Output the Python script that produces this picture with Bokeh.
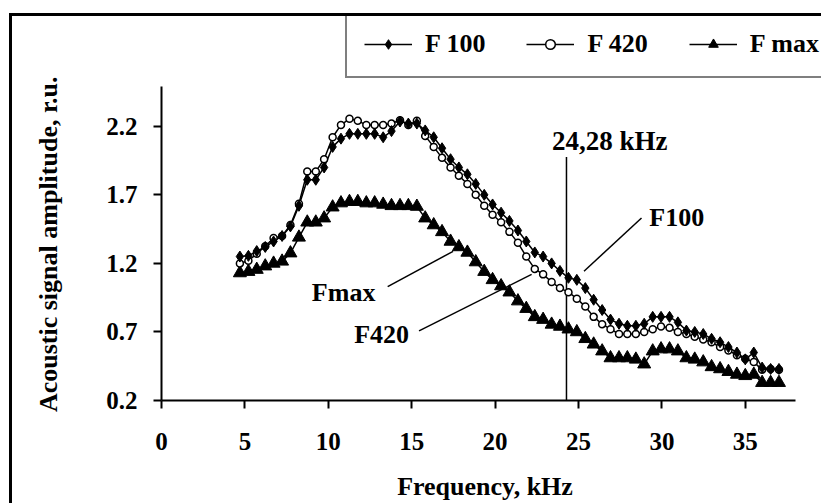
from bokeh.plotting import figure
from bokeh.models import Range1d, FixedTicker, Legend, LegendItem, Label
from bokeh.embed import file_html
from bokeh.resources import INLINE

# ---- data ----
freq = [4.70, 5.21, 5.71, 6.22, 6.72, 7.23, 7.73, 8.24, 8.74, 9.25,
        9.75, 10.26, 10.76, 11.27, 11.77, 12.28, 12.78, 13.29, 13.79, 14.30,
        14.80, 15.31, 15.81, 16.32, 16.82, 17.33, 17.83, 18.34, 18.84, 19.35,
        19.85, 20.36, 20.86, 21.37, 21.87, 22.38, 22.88, 23.39, 23.89, 24.40,
        24.90, 25.41, 25.91, 26.42, 26.92, 27.43, 27.93, 28.44, 28.94, 29.45,
        29.95, 30.46, 30.96, 31.47, 31.97, 32.48, 32.98, 33.49, 33.99, 34.50,
        35.00, 35.51, 36.01, 36.52, 37.02]

f100 = [1.25, 1.255, 1.29, 1.32, 1.36, 1.40, 1.47, 1.62, 1.81, 1.81,
        1.90, 2.05, 2.11, 2.145, 2.145, 2.145, 2.145, 2.12, 2.165, 2.235,
        2.22, 2.22, 2.17, 2.12, 2.04, 1.96, 1.90, 1.85, 1.78, 1.70,
        1.63, 1.57, 1.51, 1.44, 1.36, 1.28, 1.25, 1.20, 1.145, 1.095,
        1.08, 1.02, 0.935, 0.86, 0.79, 0.76, 0.745, 0.745, 0.76, 0.81,
        0.81, 0.81, 0.77, 0.71, 0.70, 0.685, 0.65, 0.625, 0.59, 0.55,
        0.50, 0.55, 0.44, 0.43, 0.43]

f420 = [1.20, 1.22, 1.27, 1.325, 1.385, 1.40, 1.48, 1.635, 1.87, 1.87,
        1.96, 2.12, 2.21, 2.255, 2.24, 2.21, 2.21, 2.21, 2.22, 2.245,
        2.21, 2.24, 2.13, 2.05, 1.97, 1.90, 1.84, 1.78, 1.70, 1.62,
        1.555, 1.50, 1.43, 1.35, 1.25, 1.16, 1.12, 1.064, 1.02, 0.99,
        0.943, 0.885, 0.81, 0.757, 0.72, 0.685, 0.685, 0.685, 0.70, 0.72,
        0.74, 0.73, 0.70, 0.685, 0.665, 0.645, 0.625, 0.59, 0.565, 0.53,
        0.505, 0.48, 0.425, 0.43, 0.425]

fmax = [1.13, 1.14, 1.155, 1.18, 1.20, 1.215, 1.275, 1.39, 1.50, 1.50,
        1.53, 1.61, 1.64, 1.65, 1.65, 1.64, 1.64, 1.63, 1.62, 1.62,
        1.62, 1.615, 1.53, 1.48, 1.43, 1.36, 1.32, 1.28, 1.21, 1.14,
        1.08, 1.035, 0.99, 0.925, 0.87, 0.81, 0.79, 0.755, 0.74, 0.72,
        0.70, 0.65, 0.61, 0.56, 0.51, 0.51, 0.51, 0.50, 0.465, 0.56,
        0.575, 0.575, 0.56, 0.51, 0.50, 0.48, 0.445, 0.43, 0.41, 0.39,
        0.38, 0.39, 0.33, 0.33, 0.33]

x_ticks = [0, 5, 10, 15, 20, 25, 30, 35]
y_ticks = [0.2, 0.7, 1.2, 1.7, 2.2]
x_axis_span = (0, 38)
y_axis_span = (0.2, 2.493)

series_labels = ["F 100", "F 420", "F max"]

# marker line at 24,28 kHz and callout annotations (data coordinates)
mark_khz = 24.28
mark_top = 1.976
call_x0 = [28.78, 13.56, 15.44]
call_y0 = [1.531, 1.03, 0.708]
call_x1 = [25.33, 17.48, 22.19]
call_y1 = [1.143, 1.288, 1.12]
call_text = ["F100", "Fmax", "F420"]
call_tx = [30.89, 10.92, 13.2]
call_ty = [1.533, 0.989, 0.684]

FONT = "Liberation Serif"
NBSP = "\u00a0"

# frame spans up to the top/right of the canvas so the legend is not clipped;
# the axis lines are limited to the chart's own ranges with `bounds`.
p = figure(width=821, height=503, output_backend="svg", toolbar_location=None,
           x_range=Range1d(0, 39.57), y_range=Range1d(0.2, 3.001),
           min_border_left=161, min_border_right=0,
           min_border_top=16, min_border_bottom=101)
p.grid.visible = False
p.outline_line_color = None
p.background_fill_alpha = 0
p.border_fill_alpha = 0
# outer chart-area border: only its top and left edges fall inside the window
p.styles = {"background": "linear-gradient(#000, #000) 9px 13px / 3px 100% no-repeat, "
                          "linear-gradient(#000, #000) 9px 13px / 100% 3px no-repeat, "
                          "#ffffff"}

for ax in (p.xaxis[0], p.yaxis[0]):
    ax.axis_line_width = 2
    ax.axis_line_color = "black"
    ax.major_tick_line_width = 2
    ax.major_tick_out = 8
    ax.major_tick_in = 0
    ax.minor_tick_out = 0
    ax.minor_tick_in = 0
    ax.major_label_text_font = FONT
    ax.major_label_text_font_style = "bold"
    ax.major_label_text_font_size = "25px"
    ax.major_label_text_color = "black"
    ax.axis_label_text_font = FONT
    ax.axis_label_text_font_style = "bold"
    ax.axis_label_text_color = "black"

p.xaxis.bounds = x_axis_span
p.yaxis.bounds = y_axis_span
p.xaxis.axis_label_text_font_size = "26px"
p.yaxis.axis_label_text_font_size = "26px"
p.xaxis.ticker = FixedTicker(ticks=x_ticks)
p.yaxis.ticker = FixedTicker(ticks=y_ticks)
# trailing no-break spaces re-centre the titles on the chart's own axis span
p.xaxis.axis_label = "Frequency, kHz" + NBSP * 2
p.yaxis.axis_label = "Acoustic signal amplitude, r.u." + NBSP * 11
p.xaxis.major_label_standoff = 24
p.yaxis.major_label_standoff = 16
p.xaxis.axis_label_standoff = 19
p.yaxis.axis_label_standoff = 40

# vertical marker line and callouts
p.segment(x0=[mark_khz], y0=[0.2], x1=[mark_khz], y1=[mark_top],
          line_color="black", line_width=1.5)
p.segment(x0=call_x0, y0=call_y0, x1=call_x1, y1=call_y1,
          line_color="black", line_width=1.5)

# series
l1 = p.line(freq, f100, line_color="black", line_width=1.5)
l2 = p.line(freq, f420, line_color="black", line_width=1.5)
l3 = p.line(freq, fmax, line_color="black", line_width=1.5)
s3 = p.scatter(freq, fmax, marker="triangle", size=13,
               fill_color="black", line_color="black", line_width=1)
s2 = p.scatter(freq, f420, marker="circle", size=7,
               fill_color="white", line_color="black", line_width=1.5)
s1 = p.scatter(freq, f100, marker="diamond", size=11,
               fill_color="black", line_color="black", line_width=1)

p.add_layout(Label(x=26.87, y=2.092, text="24,28 kHz", text_align="center",
                   text_baseline="middle", text_font=FONT, text_font_style="bold",
                   text_font_size="27px", text_color="black"))
for t, tx, ty in zip(call_text, call_tx, call_ty):
    p.add_layout(Label(x=tx, y=ty, text=t, text_align="center",
                       text_baseline="middle", text_font=FONT, text_font_style="bold",
                       text_font_size="26px", text_color="black"))

legend = Legend(items=[LegendItem(label=series_labels[0], renderers=[l1, s1]),
                       LegendItem(label=series_labels[1], renderers=[l2, s2]),
                       LegendItem(label=series_labels[2], renderers=[l3, s3])],
                orientation="horizontal", location=(184, 322),
                border_line_color="black", border_line_width=2,
                background_fill_color="white", background_fill_alpha=1,
                label_text_font=FONT, label_text_font_style="bold",
                label_text_font_size="26px", label_text_color="black",
                glyph_width=48, glyph_height=24, label_standoff=13,
                spacing=41, padding=17, margin=0)
p.add_layout(legend)

open("out.html", "w").write(file_html(p, INLINE))
